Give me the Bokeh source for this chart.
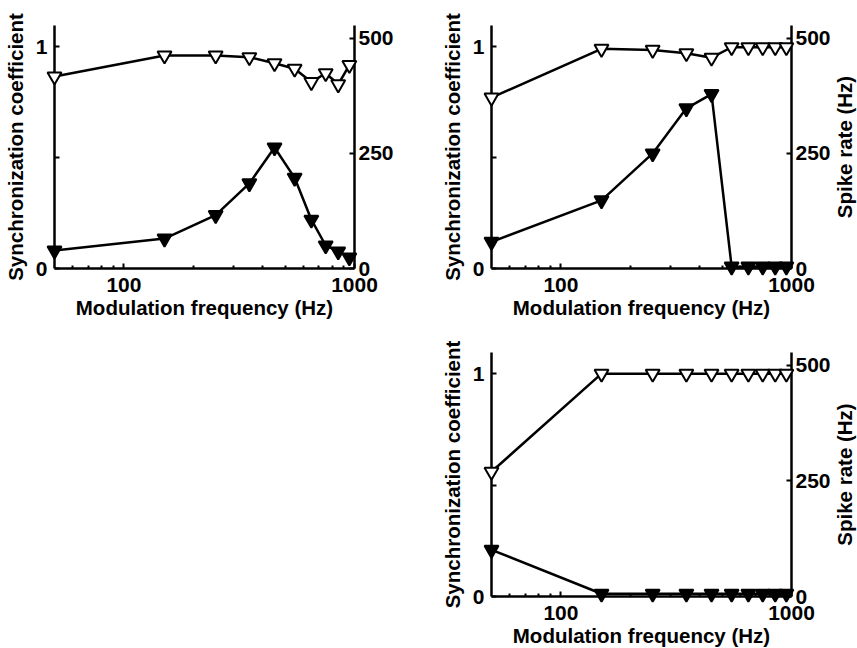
import math
from bokeh.plotting import figure
from bokeh.models import LinearAxis, Range1d, FixedTicker, PrintfTickFormatter, Spacer
from bokeh.core.properties import value
from bokeh.layouts import column, row
from bokeh.embed import file_html
from bokeh.resources import INLINE

# ---- data ----
freq = [50, 150, 250, 350, 450, 550, 650, 750, 850, 950]

sync_a = [0.865, 0.96, 0.96, 0.952, 0.925, 0.90, 0.84, 0.88, 0.83, 0.917]
rate_a = [39, 65, 116, 185, 263, 197, 106, 50, 37, 24]

sync_b = [0.77, 0.99, 0.985, 0.97, 0.95, 0.997, 0.997, 0.997, 0.997, 0.997]
rate_b = [58, 148, 250, 348, 379, 4, 4, 4, 4, 4]

sync_c = [0.56, 1.0, 1.0, 1.0, 1.0, 1.0, 1.0, 1.0, 1.0, 1.0]
rate_c = [101, 6, 6, 6, 6, 6, 6, 6, 6, 6]

x_major = [100, 1000]
x_minor = [60, 70, 80, 90, 200, 300, 400, 500, 600, 700, 800, 900]
sync_ticks = [0, 1]
sync_minor = [0.5]
rate_ticks = [0, 250, 500]

x_label = "Modulation frequency (Hz)"
sync_label = "Synchronization coefficient"
rate_label = "Spike rate (Hz)"

FONT = "Liberation Sans"
TICK_SIZE = "21px"
LABEL_SIZE = "20.5px"
RATE_MAX = 528


def style_axis(ax):
    ax.axis_line_color = "black"
    ax.axis_line_width = 2.5
    ax.major_tick_line_color = "black"
    ax.major_tick_line_width = 2
    ax.minor_tick_line_color = "black"
    ax.minor_tick_line_width = 2
    ax.major_tick_in = 5
    ax.major_tick_out = 0
    ax.minor_tick_in = 3
    ax.minor_tick_out = 0
    ax.major_label_text_font = FONT
    ax.major_label_text_font_style = "bold"
    ax.major_label_text_font_size = TICK_SIZE
    ax.major_label_text_color = "black"
    ax.axis_label_text_font = FONT
    ax.axis_label_text_font_style = "bold"
    ax.axis_label_text_font_size = LABEL_SIZE
    ax.axis_label_text_color = "black"


def panel(sync, rate, left, top, fw, fh, right, bottom, show_rate_label):
    p = figure(x_axis_type="log", x_range=Range1d(50, 1000),
               y_range=Range1d(0, 1.095),
               frame_width=fw, frame_height=fh,
               min_border_left=left, min_border_top=top,
               min_border_right=right, min_border_bottom=bottom,
               output_backend="svg", toolbar_location=None)
    p.outline_line_color = None
    p.xgrid.visible = False
    p.ygrid.visible = False
    p.background_fill_color = "white"
    p.border_fill_color = "white"
    p.extra_y_ranges = {"rate": Range1d(0, RATE_MAX)}

    # bottom axis
    xa = p.xaxis[0]
    xa.ticker = FixedTicker(ticks=x_major, minor_ticks=x_minor)
    xa.formatter = PrintfTickFormatter(format="%d")
    xa.axis_label = x_label
    style_axis(xa)
    xa.major_label_standoff = 9
    xa.axis_label_standoff = 1

    # left axis
    ya = p.yaxis[0]
    ya.ticker = FixedTicker(ticks=sync_ticks, minor_ticks=sync_minor)
    ya.axis_label = sync_label
    style_axis(ya)
    ya.minor_tick_in = 5
    ya.major_label_standoff = 7
    ya.axis_label_standoff = 6

    # right axis
    ra = LinearAxis(y_range_name="rate")
    ra.ticker = FixedTicker(ticks=rate_ticks)
    style_axis(ra)
    ra.major_label_standoff = 4
    p.add_layout(ra, "right")

    # data
    l1 = p.line(freq, sync, line_color="black", line_width=2.5)
    m1 = p.scatter(freq, sync, marker="inverted_triangle", size=14,
                   fill_color="white", line_color="black", line_width=2)
    l2 = p.line(freq, rate, line_color="black", line_width=2.5, y_range_name="rate")
    m2 = p.scatter(freq, rate, marker="inverted_triangle", size=14,
                   fill_color="black", line_color="black", line_width=2,
                   y_range_name="rate")
    for r in (l1, m1, l2, m2):
        r.level = "overlay"

    if show_rate_label:
        t = p.text(x=[1000], y=[RATE_MAX / 2], text=[rate_label],
                   y_range_name="rate", angle=math.pi / 2, x_offset=53,
                   text_align="center", text_baseline="middle",
                   text_font=value(FONT), text_font_style="bold",
                   text_font_size=value(LABEL_SIZE), text_color="black")
        t.level = "overlay"
    return p


p1 = panel(sync_a, rate_a, left=54, top=25, fw=300, fh=243, right=76, bottom=62,
           show_rate_label=False)
p2 = panel(sync_b, rate_b, left=61, top=25, fw=300, fh=243, right=66, bottom=62,
           show_rate_label=True)
p3 = panel(sync_c, rate_c, left=61, top=22, fw=300, fh=244, right=66, bottom=52,
           show_rate_label=True)

layout = column(row(p1, p2), row(Spacer(width=430, height=318), p3))

with open("out.html", "w") as f:
    f.write(file_html(layout, INLINE))
